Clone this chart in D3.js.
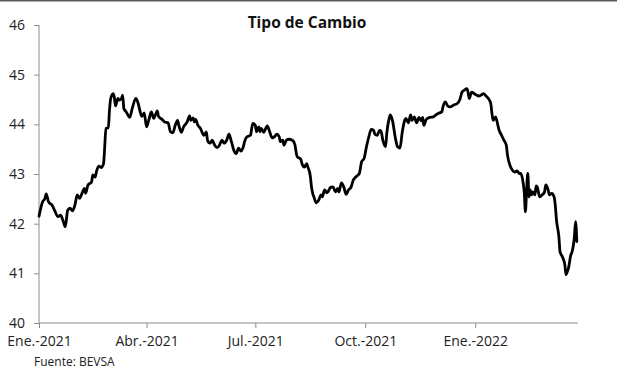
<!DOCTYPE html>
<html><head><meta charset="utf-8">
<script src="https://cdn.jsdelivr.net/npm/d3@7"></script>
<style>html,body{margin:0;padding:0;background:#fff;}svg{display:block;}</style>
</head><body>
<svg id="chart" width="617" height="372"></svg>
<script>
const title = "Tipo de Cambio";
const source = "Fuente: BEVSA";
const yTicks = [40, 41, 42, 43, 44, 45, 46];
const xTickDates = ["2021-01-01", "2021-04-01", "2021-07-01", "2021-10-01", "2022-01-01"];
const xTickLabels = ["Ene.-2021", "Abr.-2021", "Jul.-2021", "Oct.-2021", "Ene.-2022"];
const xDomain = ["2021-01-01", "2022-03-28"];

const dates = [
"2021-01-01","2021-01-04","2021-01-06","2021-01-07","2021-01-09","2021-01-12","2021-01-14","2021-01-17","2021-01-19","2021-01-21",
"2021-01-23","2021-01-25","2021-01-27","2021-01-29","2021-01-31","2021-02-02","2021-02-04","2021-02-06","2021-02-08","2021-02-09",
"2021-02-11","2021-02-14","2021-02-15","2021-02-17","2021-02-18","2021-02-20","2021-02-22","2021-02-24","2021-02-25","2021-02-26",
"2021-02-28","2021-03-01","2021-03-02","2021-03-04","2021-03-05","2021-03-06","2021-03-08","2021-03-09","2021-03-11","2021-03-12",
"2021-03-13","2021-03-15","2021-03-18","2021-03-20","2021-03-23","2021-03-25","2021-03-27","2021-03-28","2021-03-30","2021-04-01",
"2021-04-03","2021-04-05","2021-04-07","2021-04-10","2021-04-11","2021-04-14","2021-04-16","2021-04-19","2021-04-21","2021-04-23",
"2021-04-25","2021-04-27","2021-04-28","2021-04-30","2021-05-02","2021-05-05","2021-05-07","2021-05-08","2021-05-10","2021-05-11",
"2021-05-12","2021-05-14","2021-05-16","2021-05-19","2021-05-21","2021-05-22","2021-05-24","2021-05-26","2021-05-28","2021-05-30",
"2021-06-01","2021-06-03","2021-06-05","2021-06-07","2021-06-09","2021-06-11","2021-06-13","2021-06-15","2021-06-17","2021-06-19",
"2021-06-21","2021-06-22","2021-06-24","2021-06-27","2021-06-28","2021-06-29","2021-07-01","2021-07-02","2021-07-04","2021-07-05",
"2021-07-06","2021-07-08","2021-07-11","2021-07-13","2021-07-15","2021-07-17","2021-07-19","2021-07-21","2021-07-22","2021-07-24",
"2021-07-25","2021-07-27","2021-07-29","2021-08-01","2021-08-03","2021-08-05","2021-08-08","2021-08-09","2021-08-11","2021-08-13",
"2021-08-14","2021-08-16","2021-08-17","2021-08-18","2021-08-19","2021-08-21","2021-08-23","2021-08-25","2021-08-26","2021-08-28",
"2021-08-30","2021-09-02","2021-09-04","2021-09-06","2021-09-08","2021-09-09","2021-09-11","2021-09-13","2021-09-15","2021-09-17",
"2021-09-19","2021-09-21","2021-09-23","2021-09-26","2021-09-28","2021-09-30","2021-10-02","2021-10-04","2021-10-06","2021-10-08",
"2021-10-09","2021-10-11","2021-10-13","2021-10-14","2021-10-16","2021-10-18","2021-10-19","2021-10-21","2021-10-22","2021-10-24",
"2021-10-26","2021-10-28","2021-10-30","2021-11-01","2021-11-03","2021-11-04","2021-11-06","2021-11-08","2021-11-09","2021-11-11",
"2021-11-13","2021-11-15","2021-11-17","2021-11-18","2021-11-19","2021-11-21","2021-11-24","2021-11-27","2021-11-29","2021-12-01",
"2021-12-04","2021-12-05","2021-12-07","2021-12-09","2021-12-11","2021-12-14","2021-12-17","2021-12-19","2021-12-21","2021-12-23",
"2021-12-25","2021-12-26","2021-12-27","2021-12-29","2021-12-31","2022-01-02","2022-01-04","2022-01-06","2022-01-08","2022-01-10",
"2022-01-12","2022-01-14","2022-01-15","2022-01-16","2022-01-18","2022-01-19","2022-01-21","2022-01-23","2022-01-25","2022-01-27",
"2022-01-28","2022-01-30","2022-02-01","2022-02-03","2022-02-05","2022-02-07","2022-02-08","2022-02-10","2022-02-11","2022-02-12",
"2022-02-13","2022-02-14","2022-02-15","2022-02-16","2022-02-17","2022-02-18","2022-02-20","2022-02-21","2022-02-22","2022-02-24",
"2022-02-26","2022-02-28","2022-03-01","2022-03-03","2022-03-04","2022-03-06","2022-03-08","2022-03-09","2022-03-10","2022-03-12",
"2022-03-13","2022-03-15","2022-03-17","2022-03-18","2022-03-19","2022-03-20","2022-03-22","2022-03-23","2022-03-25","2022-03-26",
"2022-03-27"
];
const values = [
42.15,42.44,42.51,42.60,42.44,42.37,42.27,42.14,42.17,42.07,
41.94,42.27,42.31,42.26,42.37,42.58,42.51,42.61,42.71,42.61,
42.78,42.84,42.98,42.94,43.04,43.16,43.13,43.21,43.55,43.92,
43.93,44.29,44.52,44.62,44.55,44.37,44.52,44.49,44.52,44.59,
44.32,44.25,44.14,44.32,44.52,44.42,44.22,44.16,44.23,43.95,
44.10,44.25,44.12,44.27,44.16,44.10,44.05,44.03,43.85,43.83,
43.98,44.08,43.98,43.84,43.95,44.05,44.17,44.08,44.13,44.05,
44.10,43.98,43.92,43.78,43.85,43.68,43.62,43.68,43.58,43.53,
43.58,43.68,43.62,43.68,43.80,43.65,43.48,43.41,43.52,43.46,
43.55,43.65,43.75,43.78,43.92,44.02,43.98,43.85,43.95,43.85,
43.92,43.84,43.97,43.85,43.73,43.75,43.80,43.75,43.65,43.68,
43.58,43.68,43.70,43.68,43.60,43.35,43.30,43.21,43.14,43.21,
43.14,42.96,42.74,42.61,42.54,42.42,42.47,42.58,42.54,42.68,
42.62,42.73,42.74,42.64,42.71,42.64,42.82,42.74,42.59,42.68,
42.73,42.88,42.94,43.01,43.25,43.31,43.55,43.75,43.90,43.88,
43.80,43.78,43.88,43.87,43.65,43.55,43.82,44.12,44.19,44.05,
43.75,43.55,43.52,43.85,44.08,44.12,44.03,44.19,44.08,44.15,
44.03,44.14,44.07,44.14,43.98,44.10,44.14,44.15,44.19,44.22,
44.25,44.35,44.45,44.37,44.35,44.39,44.42,44.49,44.65,44.69,
44.72,44.65,44.52,44.65,44.62,44.59,44.57,44.59,44.62,44.57,
44.52,44.42,44.22,44.08,44.15,44.08,43.88,43.78,43.68,43.58,
43.38,43.18,43.08,43.04,43.06,43.01,43.01,42.84,42.64,42.24,
42.68,43.01,42.54,42.68,42.58,42.64,42.58,42.76,42.73,42.54,
42.58,42.64,42.78,42.68,42.58,42.61,42.54,42.37,42.07,41.74,
41.43,41.33,41.17,40.97,41.03,41.10,41.37,41.43,41.74,42.04,
41.64
];

const parse = d3.utcParse("%Y-%m-%d");
const data = dates.map((d, i) => ({ date: parse(d), value: values[i] }));

const svg = d3.select("#chart");
const W = 617, H = 372;
const m = { left: 39, right: 39, top: 25, bottom: 49 };
const font = "'Open Sans', sans-serif";
const axisColor = "#8c8c8c";

svg.append("rect").attr("x", 0).attr("y", 0).attr("width", W).attr("height", 1.5).attr("fill", "#5a5a5a");

const x = d3.scaleUtc().domain(xDomain.map(parse)).range([m.left, W - m.right]);
const y = d3.scaleLinear().domain([40, 46]).range([H - m.bottom, m.top]);

// Y axis
const yAxis = svg.append("g").attr("transform", `translate(${m.left},0)`)
  .call(d3.axisLeft(y).tickValues(yTicks).tickSize(5).tickPadding(9).tickFormat(d3.format("d")));
yAxis.select(".domain").attr("stroke", axisColor).attr("d", `M-0,${y(46)}V${y(40)}`);
yAxis.selectAll(".tick line").attr("stroke", axisColor);
yAxis.selectAll(".tick text").attr("font-family", font).attr("font-size", 14).attr("fill", "#222");

// X axis
const xAxis = svg.append("g").attr("transform", `translate(0,${y(40)})`)
  .call(d3.axisBottom(x).tickValues(xTickDates.map(parse)).tickSize(5).tickPadding(8)
    .tickFormat((d, i) => xTickLabels[i]));
xAxis.select(".domain").attr("stroke", axisColor).attr("d", `M${x.range()[0]},0H${x.range()[1]}`);
xAxis.selectAll(".tick line").attr("stroke", axisColor);
xAxis.selectAll(".tick text").attr("font-family", font).attr("font-size", 14).attr("fill", "#222");

// Line
const line = d3.line().x(d => x(d.date)).y(d => y(d.value)).curve(d3.curveMonotoneX);
svg.append("path").datum(data).attr("d", line)
  .attr("fill", "none").attr("stroke", "#000").attr("stroke-width", 2.8)
  .attr("stroke-linejoin", "round").attr("stroke-linecap", "round");

// Title
svg.append("text").attr("x", 307).attr("y", 28).attr("text-anchor", "middle")
  .attr("font-family", font).attr("font-weight", "bold").attr("font-size", 15.5).attr("fill", "#111")
  .text(title);

// Source
svg.append("text").attr("x", 34).attr("y", 366)
  .attr("font-family", font).attr("font-size", 12).attr("fill", "#222")
  .text(source);
</script>
</body></html>
